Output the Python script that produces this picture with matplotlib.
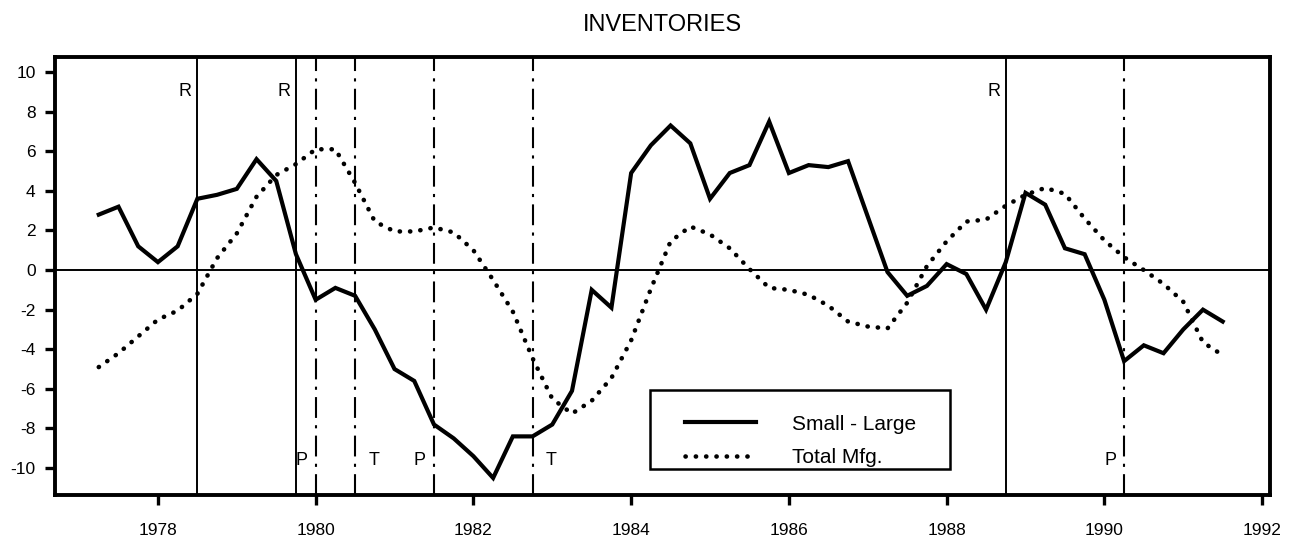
import numpy as np
import matplotlib
matplotlib.use("Agg")
import matplotlib.pyplot as plt
from matplotlib import transforms
from matplotlib.patches import Rectangle

# ---------------- data ----------------
quarters = np.arange(1977.25, 1991.51, 0.25)

small_minus_large = [
    2.8, 3.2, 1.2, 0.4, 1.2, 3.6, 3.8, 4.1, 5.6, 4.5, 0.8, -1.5, -0.9, -1.3,
    -3.0, -5.0, -5.6, -7.8, -8.5, -9.4, -10.5, -8.4, -8.4, -7.8, -6.1, -1.0,
    -1.9, 4.9, 6.3, 7.3, 6.4, 3.6, 4.9, 5.3, 7.5, 4.9, 5.3, 5.2, 5.5, 2.7,
    -0.1, -1.3, -0.8, 0.3, -0.2, -2.0, 0.4, 3.9, 3.3, 1.1, 0.8, -1.5, -4.6,
    -3.8, -4.2, -3.0, -2.0, -2.6,
]

total_mfg = [
    -4.9, -4.2, -3.35, -2.5, -2.05, -1.2, 0.6, 1.85, 3.7, 4.8, 5.35, 6.1, 6.1,
    4.4, 2.45, 1.95, 1.95, 2.15, 1.9, 1.0, -0.5, -2.1, -4.45, -6.5, -7.25,
    -6.6, -5.45, -3.55, -0.95, 1.45, 2.2, 1.8, 1.1, 0.05, -0.9, -1.0, -1.25,
    -1.8, -2.6, -2.85, -2.95, -1.65, 0.2, 1.45, 2.45, 2.55, 3.25, 3.8, 4.15,
    3.85, 2.6, 1.5, 0.65, 0.0, -0.7, -1.6, -3.65, -4.3,
]

# recession (R) lines: solid
r_dates = [1978.5, 1979.75, 1988.75]
# peak / trough lines: dash-dot
pt_dates = [1980.0, 1980.5, 1981.5, 1982.75, 1990.25]
pt_labels = ["P", "T", "P", "T", "P"]
pt_side = ["left", "right", "left", "right", "left"]

series_names = ["Small - Large", "Total Mfg."]
title = "INVENTORIES"
xticks = [1978, 1980, 1982, 1984, 1986, 1988, 1990, 1992]
yticks = [-10, -8, -6, -4, -2, 0, 2, 4, 6, 8, 10]

assert len(quarters) == len(small_minus_large) == len(total_mfg)

# ---------------- plot ----------------
plt.rcParams["font.family"] = ["Liberation Sans", "DejaVu Sans"]

W, H = 1296, 546
fig = plt.figure(figsize=(W / 100, H / 100), dpi=100)
L, R, T, B = 55, 1270, 57, 495
ax = fig.add_axes([L / W, (H - B) / H, (R - L) / W, (B - T) / H])

ax.set_xlim(1976.695, 1992.1)
ax.set_ylim(-11.36, 10.76)

ax.axhline(0, color="black", lw=1.4, zorder=1)

for d in r_dates:
    ax.axvline(d, color="black", lw=1.4, zorder=1)
for d in pt_dates:
    ax.axvline(d, color="black", lw=1.5, ls=(0, (10, 3.5, 1.5, 3.5)), zorder=1)

ax.plot(quarters, small_minus_large, color="black", lw=3.0,
        solid_joinstyle="miter", label=series_names[0], zorder=3)
ax.plot(quarters, total_mfg, color="black", lw=3.3, ls=(0, (0.05, 2.2)),
        dash_capstyle="round", label=series_names[1], zorder=3)

# labels near event lines
for d in r_dates:
    ax.text(d, 9.0, "R",
            transform=transforms.offset_copy(ax.transData, fig=fig, x=-12, y=0, units="dots"),
            ha="center", va="center", fontsize=13)
for d, lab, side in zip(pt_dates, pt_labels, pt_side):
    dx = -14 if side == "left" else 19
    ax.text(d, -9.6, lab,
            transform=transforms.offset_copy(ax.transData, fig=fig, x=dx, y=0, units="dots"),
            ha="center", va="center", fontsize=13)

ax.set_xticks(xticks)
ax.set_xticklabels([str(t) for t in xticks], fontsize=12.5)
ax.set_yticks(yticks)
ax.set_yticklabels([str(t) for t in yticks], fontsize=12.5)
ax.tick_params(axis="both", direction="out", length=7, width=2.4, color="black")
ax.tick_params(axis="x", pad=13)
ax.tick_params(axis="y", pad=7)

for s in ax.spines.values():
    s.set_linewidth(2.8)

ax.set_title(title, fontsize=17, pad=19)

# legend (content) + box
box_l, box_r, box_t, box_b = 650, 950, 390, 469
ax.add_patch(Rectangle(((box_l - L) / (R - L), (B - box_b) / (B - T)),
                       (box_r - box_l) / (R - L), (box_b - box_t) / (B - T),
                       transform=ax.transAxes, fill=True, facecolor="white",
                       edgecolor="black", lw=1.8, zorder=4))
leg = ax.legend(loc="center left",
                bbox_to_anchor=((685 - L) / (R - L), (B - 441) / (B - T)),
                frameon=False, fontsize=15, handlelength=3.4,
                handletextpad=1.75, borderpad=0, labelspacing=0.7,
                borderaxespad=0)
leg.set_zorder(5)

fig.savefig("out.png", dpi=100)
